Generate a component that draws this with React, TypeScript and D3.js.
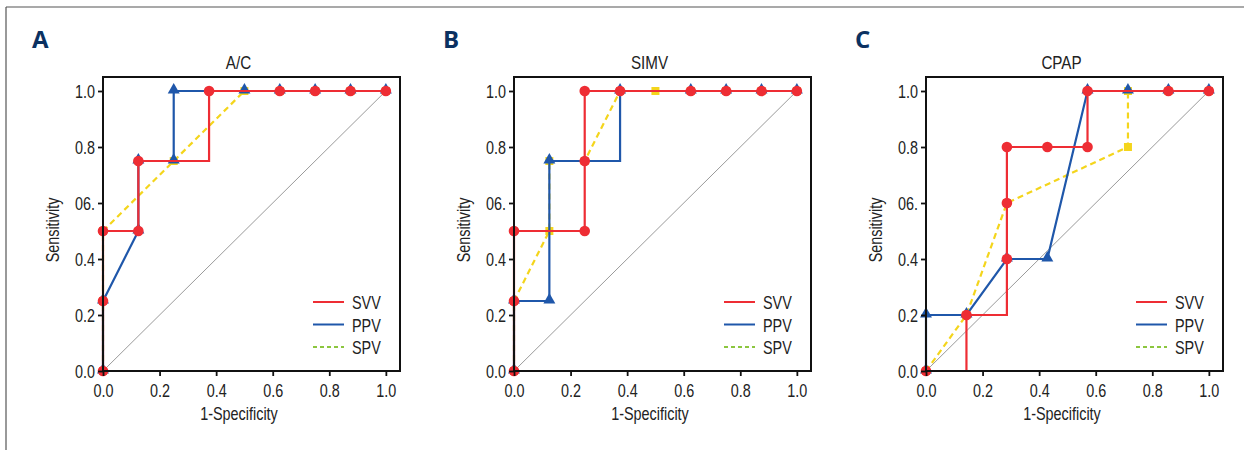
import React, { useEffect, useRef } from 'react';
import * as d3 from 'd3';

// [x, y, marker] — marker = 1 where a symbol is drawn
type Pt = [number, number, number];

const panelLetters = ['A', 'B', 'C'];
const panelTitles = ['A/C', 'SIMV', 'CPAP'];
const yTickLabels = ['0.0', '0.2', '0.4', '06.', '0.8', '1.0'];
const yTickValues = [0, 0.2, 0.4, 0.6, 0.8, 1.0];
const xTickValues = [0, 0.2, 0.4, 0.6, 0.8, 1.0];
const seriesNames = ['SVV', 'PPV', 'SPV'];

// A/C
const acSVV: Pt[] = [[0, 0, 1], [0, 0.25, 1], [0, 0.5, 1], [0.125, 0.5, 1], [0.125, 0.75, 1], [0.375, 0.75, 0], [0.375, 1, 1], [0.625, 1, 1], [0.75, 1, 1], [0.875, 1, 1], [1, 1, 1]];
const acPPV: Pt[] = [[0, 0, 1], [0, 0.25, 1], [0.125, 0.5, 1], [0.125, 0.75, 1], [0.25, 0.75, 1], [0.25, 1, 1], [0.5, 1, 1], [0.625, 1, 1], [0.75, 1, 1], [0.875, 1, 1], [1, 1, 1]];
const acSPV: Pt[] = [[0, 0, 1], [0, 0.25, 1], [0, 0.5, 1], [0.25, 0.75, 1], [0.5, 1, 1], [0.625, 1, 1], [0.75, 1, 1], [0.875, 1, 1], [1, 1, 1]];

// SIMV
const simvSVV: Pt[] = [[0, 0, 1], [0, 0.25, 1], [0, 0.5, 1], [0.25, 0.5, 1], [0.25, 0.75, 1], [0.25, 1, 1], [0.375, 1, 1], [0.625, 1, 1], [0.75, 1, 1], [0.875, 1, 1], [1, 1, 1]];
const simvPPV: Pt[] = [[0, 0, 1], [0, 0.25, 1], [0.125, 0.25, 1], [0.125, 0.75, 1], [0.375, 0.75, 0], [0.375, 1, 1], [0.625, 1, 1], [0.75, 1, 1], [0.875, 1, 1], [1, 1, 1]];
const simvSPV: Pt[] = [[0, 0, 1], [0, 0.25, 1], [0.125, 0.5, 1], [0.125, 0.75, 1], [0.25, 0.75, 1], [0.375, 1, 1], [0.5, 1, 1], [0.625, 1, 1], [0.75, 1, 1], [0.875, 1, 1], [1, 1, 1]];

// CPAP
const cpapSVV: Pt[] = [[0, 0, 1], [0.143, 0, 0], [0.143, 0.2, 1], [0.286, 0.2, 0], [0.286, 0.4, 1], [0.286, 0.6, 1], [0.286, 0.8, 1], [0.429, 0.8, 1], [0.571, 0.8, 1], [0.571, 1, 1], [0.857, 1, 1], [1, 1, 1]];
const cpapPPV: Pt[] = [[0, 0, 1], [0, 0.2, 1], [0.143, 0.2, 1], [0.286, 0.4, 1], [0.429, 0.4, 1], [0.571, 1, 1], [0.714, 1, 1], [0.857, 1, 1], [1, 1, 1]];
const cpapSPV: Pt[] = [[0, 0, 1], [0.143, 0.2, 1], [0.286, 0.6, 1], [0.714, 0.8, 1], [0.714, 1, 1], [0.857, 1, 1], [1, 1, 1]];

const panelSeries = [
  [acSVV, acPPV, acSPV],
  [simvSVV, simvPPV, simvSPV],
  [cpapSVV, cpapPPV, cpapSPV],
];

const RED = '#ee2d34';
const BLUE = '#1f57aa';
const YELLOW = '#f4d51c';
const LEGEND_GREEN = '#8cc63f';
const NAVY = '#0b3161';
const FONT = '"Liberation Sans", Arial, sans-serif';
const SX = 0.8; // horizontal squeeze to mimic the condensed face

const styleText = (sel: any, size: number) =>
  sel.style('font-family', FONT).style('font-size', `${size}px`).attr('fill', '#222');

// condensed text placed at (x, y), optional rotation
const condText = (parent: any, x: number, y: number, size: number, txt: string, anchor = 'start', rot = 0) =>
  styleText(parent.append('text')
    .attr('transform', `translate(${x},${y})${rot ? ` rotate(${rot})` : ''} scale(${SX},1)`)
    .attr('text-anchor', anchor), size).text(txt);

const App = () => {
  const ref = useRef<SVGSVGElement>(null);

  useEffect(() => {
    if (!ref.current) return;
    const svg = d3.select(ref.current);
    svg.selectAll('*').remove();

    // frame lines
    svg.append('line').attr('x1', 6).attr('x2', 1244).attr('y1', 7).attr('y2', 7)
      .attr('stroke', '#555').attr('stroke-width', 1.2);
    svg.append('line').attr('x1', 6).attr('x2', 6).attr('y1', 7).attr('y2', 450)
      .attr('stroke', '#555').attr('stroke-width', 1.2);

    const lefts = [103, 514, 926];
    const boxW = 297;
    const top = 77, bottom = 371;

    lefts.forEach((left, p) => {
      const x = d3.scaleLinear().domain([0, 1.05]).range([left, left + boxW]);
      const y = d3.scaleLinear().domain([0, 1.05]).range([bottom, top]);
      const g = svg.append('g');

      // panel letter
      g.append('text').attr('x', left - 71).attr('y', 48)
        .style('font-family', '"Open Sans", "DejaVu Sans", sans-serif')
        .style('font-weight', 'bold').style('font-size', '24px')
        .attr('fill', NAVY).text(panelLetters[p]);

      // title
      condText(g, left + boxW / 2 - 13, 69, 19, panelTitles[p], 'middle');

      // diagonal reference
      g.append('line').attr('x1', x(0)).attr('y1', y(0)).attr('x2', x(1)).attr('y2', y(1))
        .attr('stroke', '#9a9a9a').attr('stroke-width', 1);

      const line = d3.line<Pt>().x(d => x(d[0])).y(d => y(d[1]));
      const [svv, ppv, spv] = panelSeries[p];

      // SPV (drawn first, underneath)
      g.append('path').datum(spv).attr('d', line).attr('fill', 'none')
        .attr('stroke', YELLOW).attr('stroke-width', 2.2).attr('stroke-dasharray', '6,4');
      g.selectAll(null).data(spv.filter(d => d[2])).enter().append('path')
        .attr('d', d3.symbol().type(d3.symbolSquare).size(64)())
        .attr('transform', d => `translate(${x(d[0])},${y(d[1])})`)
        .attr('fill', YELLOW);

      // PPV
      g.append('path').datum(ppv).attr('d', line).attr('fill', 'none')
        .attr('stroke', BLUE).attr('stroke-width', 2.2);
      g.selectAll(null).data(ppv.filter(d => d[2])).enter().append('path')
        .attr('d', d3.symbol().type(d3.symbolTriangle).size(62)())
        .attr('transform', d => `translate(${x(d[0])},${y(d[1]) - 1})`)
        .attr('fill', BLUE);

      // SVV on top
      g.append('path').datum(svv).attr('d', line).attr('fill', 'none')
        .attr('stroke', RED).attr('stroke-width', 2.2);
      g.selectAll(null).data(svv.filter(d => d[2])).enter().append('circle')
        .attr('cx', d => x(d[0])).attr('cy', d => y(d[1])).attr('r', 5.3)
        .attr('fill', RED);

      // box
      g.append('rect').attr('x', left).attr('y', top).attr('width', boxW).attr('height', bottom - top)
        .attr('fill', 'none').attr('stroke', '#111').attr('stroke-width', 2);

      // axes
      const xAxis = g.append('g').attr('transform', `translate(0,${bottom})`)
        .call(d3.axisBottom(x).tickValues(xTickValues).tickFormat(d3.format('.1f')).tickSize(5).tickSizeOuter(0));
      const yAxis = g.append('g').attr('transform', `translate(${left},0)`)
        .call(d3.axisLeft(y).tickValues(yTickValues).tickFormat((_, i) => yTickLabels[i]).tickSize(5).tickSizeOuter(0));
      [xAxis, yAxis].forEach(a => {
        a.select('.domain').remove();
        a.selectAll('line').attr('stroke', '#111').attr('stroke-width', 1.8);
        styleText(a.selectAll('text'), 18).attr('transform', `scale(${SX},1)`);
      });
      xAxis.selectAll('text').attr('y', 13).attr('dy', '0.71em');
      yAxis.selectAll('text').attr('x', -8 / SX).attr('dy', '0.36em');

      // axis labels
      condText(g, left + 136, 420, 18, '1-Specificity', 'middle');
      condText(g, left - 44, (top + bottom) / 2 + 6, 18, 'Sensitivity', 'middle', -90);

      // legend
      const legendColors = [RED, BLUE, LEGEND_GREEN];
      const legendDash = [null, null, '4,3'];
      seriesNames.forEach((name, i) => {
        const ly = 302 + i * 22.5;
        g.append('line').attr('x1', left + boxW - 87).attr('x2', left + boxW - 56)
          .attr('y1', ly).attr('y2', ly).attr('stroke', legendColors[i]).attr('stroke-width', 2)
          .attr('stroke-dasharray', legendDash[i]);
        condText(g, left + boxW - 48, ly + 7, 18, name);
      });
    });
  }, []);

  return (
    <svg ref={ref} width={1244} height={450}
      style={{ position: 'absolute', left: 0, top: 0, background: '#fff' }} />
  );
};

export default App;
